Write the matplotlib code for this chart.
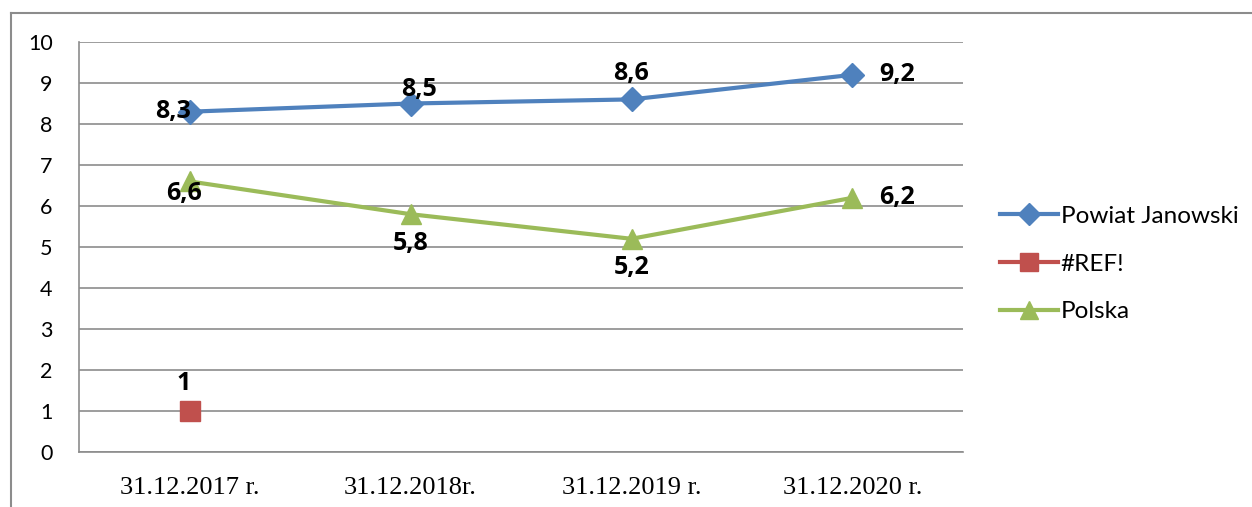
import numpy as np
import matplotlib
matplotlib.use("Agg")
import matplotlib.pyplot as plt
from matplotlib.lines import Line2D

# ── Data ────────────────────────────────────────────────────────────────────
categories = ["31.12.2017 r.", "31.12.2018r.", "31.12.2019 r.", "31.12.2020 r."]
powiat = [8.3, 8.5, 8.6, 9.2]
ref_err = [1, np.nan, np.nan, np.nan]
polska = [6.6, 5.8, 5.2, 6.2]
series_names = ["Powiat Janowski", "#REF!", "Polska"]

BLUE, RED, GREEN = "#4F81BD", "#C0504D", "#9BBB59"
GRID = "#8C8C8C"

fig = plt.figure(figsize=(12.52, 5.07), dpi=100, facecolor="white")
ax = fig.add_axes([79 / 1252, 55 / 507, (963 - 79) / 1252, (452 - 42) / 507])

x = np.arange(len(categories))
ax.plot(x, powiat, color=BLUE, lw=3, marker="D", ms=12, mec=BLUE, label=series_names[0], zorder=3)
ax.plot(x, ref_err, color=RED, lw=3, marker="s", ms=14, mec=RED, label=series_names[1], zorder=3)
ax.plot(x, polska, color=GREEN, lw=3, marker="^", ms=14, mec=GREEN, label=series_names[2], zorder=3)

# ── Data labels ─────────────────────────────────────────────────────────────
lbl = dict(fontsize=18, fontweight="bold", family=["Open Sans", "DejaVu Sans"], color="black",
           va="center", textcoords="offset points")
fmt = lambda v: f"{v:.1f}".replace(".", ",")
# (dx, dy in points, ha)
powiat_pos = [(1, 0, "right"), (6, 10, "center"), (0, 19, "center"), (19, 0, "left")]
polska_pos = [(-4, -9, "center"), (0, -21, "center"), (0, -21, "center"), (19, 0, "left")]
for i, v in enumerate(powiat):
    dx, dy, ha = powiat_pos[i]
    ax.annotate(fmt(v), (x[i], v), xytext=(dx, dy), ha=ha, **lbl)
for i, v in enumerate(polska):
    dx, dy, ha = polska_pos[i]
    ax.annotate(fmt(v), (x[i], v), xytext=(dx, dy), ha=ha, **lbl)
ax.annotate(f"{ref_err[0]:.0f}", (x[0], ref_err[0]), xytext=(-4.5, 20), ha="center", **lbl)

# ── Axes ────────────────────────────────────────────────────────────────────
ax.set_xlim(-0.5, len(categories) - 0.5)
ax.set_ylim(0, 10)
ax.set_yticks(range(0, 11))
ax.set_xticks(x)
ax.set_xticklabels(categories, fontsize=19, family="Liberation Serif")
for t in ax.get_yticklabels():
    t.set_family(["Lato", "DejaVu Sans"])
    t.set_fontsize(15.5)
ax.tick_params(axis="y", length=0, pad=19)
ax.tick_params(axis="x", length=0, pad=18)
ax.grid(axis="y", color=GRID, lw=1.2)
ax.set_axisbelow(True)
for side in ["top", "right"]:
    ax.spines[side].set_visible(False)
for side in ["left", "bottom"]:
    ax.spines[side].set_color(GRID)
    ax.spines[side].set_linewidth(1.2)

# ── Legend ──────────────────────────────────────────────────────────────────
fig.legend(loc="upper left", bbox_to_anchor=(978 / 1252, 1 - 184 / 507), frameon=False,
           prop={"family": ["Lato", "DejaVu Sans"], "size": 17.5},
           handlelength=2.4, handletextpad=0.1, labelspacing=1.1, markerscale=0.9)

# ── Outer chart border ──────────────────────────────────────────────────────
bx, by = 10.5 / 1252, 1 - 12.5 / 507
fig.add_artist(Line2D([bx, bx], [0, by], transform=fig.transFigure, color=GRID, lw=1.5))
fig.add_artist(Line2D([bx, 1], [by, by], transform=fig.transFigure, color=GRID, lw=1.5))

fig.savefig("out.png", dpi=100, facecolor="white")
